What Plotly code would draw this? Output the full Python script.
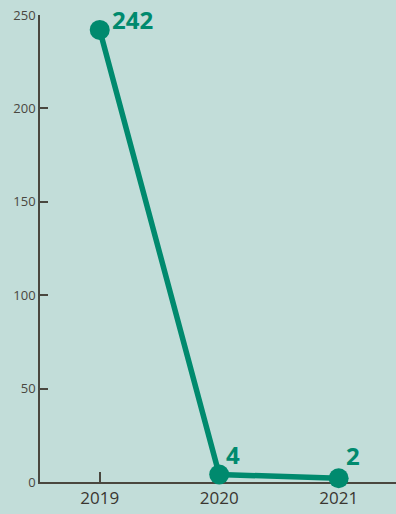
import plotly.graph_objects as go

years = [2019, 2020, 2021]
values = [242, 4, 2]
labels = ["242", "4", "2"]
y_ticks = [0, 50, 100, 150, 200, 250]

teal = "#008a6e"
bg = "#c2ddd9"
axis_col = "#4a473f"

fig = go.Figure()
fig.add_trace(go.Scatter(
    x=years, y=values, mode="lines+markers",
    line=dict(color=teal, width=5.5),
    marker=dict(color=teal, size=20),
    hoverinfo="skip", cliponaxis=False,
))

shifts = {"242": (10, -8), "4": (5, 2), "2": (5, 4)}
for x, y, t in zip(years, values, labels):
    xs, ys = shifts[t]
    fig.add_annotation(
        x=x, y=y, text=f"<b>{t}</b>", showarrow=False,
        xanchor="left", yanchor="bottom", xshift=xs, yshift=ys,
        font=dict(family="Open Sans", size=24, color=teal),
    )

fig.update_layout(
    width=396, height=514,
    margin=dict(l=40, r=0, t=15, b=32),
    paper_bgcolor=bg, plot_bgcolor=bg,
    showlegend=False,
    font=dict(family="Open Sans", color=axis_col),
    xaxis=dict(
        range=[2018.5, 2021.48], tickvals=years, ticktext=[str(y) for y in years],
        showgrid=False, zeroline=False, showline=True, linecolor=axis_col, linewidth=1.5,
        ticks="inside", ticklen=10, tickcolor=axis_col, tickwidth=1.5,
        tickfont=dict(size=17, color="#3a3630"), layer="below traces",
    ),
    yaxis=dict(
        range=[0, 250], tickvals=y_ticks,
        showgrid=False, zeroline=False, showline=True, linecolor=axis_col, linewidth=1.5,
        ticks="inside", ticklen=8, tickcolor=axis_col, tickwidth=1.5,
        tickfont=dict(size=13, color=axis_col), layer="below traces",
    ),
)

fig.write_html("out.html", config={"displayModeBar": False},
               post_script="document.body.style.margin='0';document.body.style.overflow='hidden';")
